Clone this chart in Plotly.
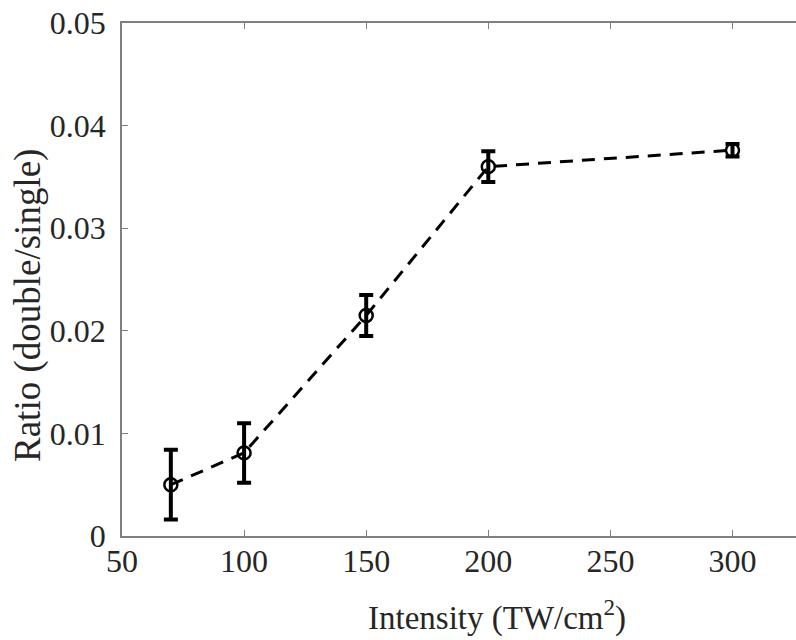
import plotly.graph_objects as go

intensity = [70, 100, 150, 200, 300]
ratio = [0.0050, 0.0081, 0.0215, 0.0360, 0.0376]
ratio_err = [0.0034, 0.0029, 0.0020, 0.0015, 0.0006]

x_ticks = [50, 100, 150, 200, 250, 300]
y_ticks = [0, 0.01, 0.02, 0.03, 0.04, 0.05]
y_tick_labels = ["0", "0.01", "0.02", "0.03", "0.04", "0.05"]
x_title = "Intensity (TW/cm<sup>2</sup>)"
y_title = "Ratio (double/single)"

font_family = "Liberation Serif"
axis_color = "#808080"
text_color = "#262626"

# plot area is 122..796 x 23..536 in the window (body margin removed)
W, H = 796, 640
ML, MT, MB, MR = 122, 23, 104, 0
plot_w = W - ML - MR
plot_h = H - MT - MB

fig = go.Figure()
fig.add_trace(go.Scatter(
    x=intensity, y=ratio,
    mode="lines+markers",
    line=dict(color="black", width=3, dash="13px,9px"),
    marker=dict(symbol="circle-open", size=13, color="black", line=dict(width=2.5)),
    error_y=dict(type="data", array=ratio_err, visible=True, color="black",
                 thickness=4, width=7),
    showlegend=False,
))

fig.update_layout(
    width=W, height=H,
    margin=dict(l=ML, r=MR, t=MT, b=MB, autoexpand=False),
    paper_bgcolor="white", plot_bgcolor="white",
    font=dict(family=font_family, size=32, color=text_color),
    xaxis=dict(
        range=[50, 326], tickvals=x_ticks, ticks="inside", ticklen=6,
        tickcolor=axis_color, showline=True, linecolor=axis_color, linewidth=1.5,
        mirror="ticks", showgrid=False, zeroline=False,
        tickfont=dict(size=32), ticklabelstandoff=-4, ticklabeloverflow="allow",
    ),
    yaxis=dict(
        range=[0, 0.05], tickvals=y_ticks, ticktext=y_tick_labels, ticks="inside",
        ticklen=6, tickcolor=axis_color, showline=True, linecolor=axis_color,
        linewidth=1.5, mirror=False, showgrid=False, zeroline=False,
        tickfont=dict(size=32), ticklabelstandoff=8, ticklabeloverflow="allow",
    ),
    annotations=[
        dict(text=x_title, xref="paper", yref="paper",
             x=(497 - 122) / plot_w, y=0, yshift=-(615 - 536),
             xanchor="center", yanchor="middle", showarrow=False,
             font=dict(size=33, color=text_color, family=font_family)),
        dict(text=y_title, xref="paper", yref="paper",
             x=0, xshift=-(122 - 28), y=(536 - 306) / plot_h,
             xanchor="center", yanchor="middle", textangle=-90, showarrow=False,
             font=dict(size=37, color=text_color, family=font_family)),
    ],
)

fig.write_html(
    "out.html",
    config={"displayModeBar": False},
    post_script="document.body.style.margin='0';document.body.style.overflow='hidden';",
)
